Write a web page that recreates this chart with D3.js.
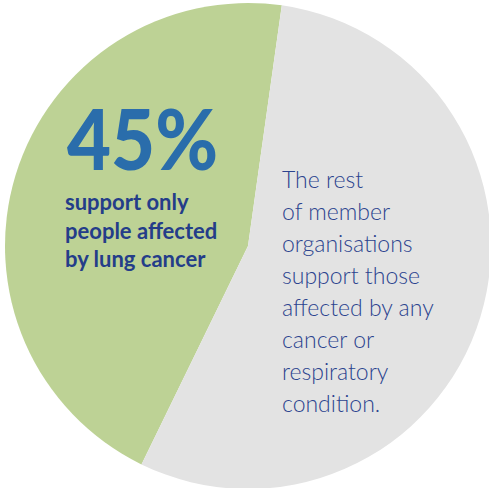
<!DOCTYPE html>
<html><head><meta charset="utf-8">
<script src="https://cdn.jsdelivr.net/npm/d3@7"></script>
<style>html,body{margin:0;padding:0;background:#fff;}svg{display:block;}</style>
</head><body>
<svg id="chart" width="489" height="488"></svg>
<script>
const categories = ["Lung cancer only", "Any cancer or respiratory condition"];
const values = [45, 55];
const colors = ["#bdd295", "#e3e3e3"];
const bigLabel = "45%";
const leftLines = ["support only", "people affected", "by lung cancer"];
const rightLines = ["The rest", "of member", "organisations", "support those", "affected by any", "cancer or", "respiratory", "condition."];

const svg = d3.select("#chart");
const cx = 248, cy = 246, r = 243;
const deg = Math.PI / 180;
const pie = d3.pie().sort(null).value(d => d)
  .startAngle(206 * deg).endAngle(206 * deg + 2 * Math.PI);
const arc = d3.arc().innerRadius(0).outerRadius(r);
const g = svg.append("g").attr("transform", `translate(${cx},${cy})`);
g.selectAll("path").data(pie(values)).join("path")
  .attr("d", arc).attr("fill", (d, i) => colors[i]);

svg.append("text").text(bigLabel)
  .attr("x", 67).attr("y", 170)
  .attr("font-family", "Lato").attr("font-weight", 900)
  .attr("font-size", 83).attr("fill", "#2a6dab")
  .attr("textLength", 151).attr("lengthAdjust", "spacingAndGlyphs");

svg.append("g").selectAll("text").data(leftLines).join("text")
  .text(d => d)
  .attr("x", 65).attr("y", (d, i) => 210 + i * 28.5)
  .attr("font-family", "Lato").attr("font-weight", 700)
  .attr("font-size", 22).attr("fill", "#243d89");

svg.append("g").selectAll("text").data(rightLines).join("text")
  .text(d => d)
  .attr("x", 282).attr("y", (d, i) => 188 + i * 32)
  .attr("font-family", "Lato").attr("font-weight", 300)
  .attr("font-size", 23).attr("fill", "#2c448f");
</script>
</body></html>
